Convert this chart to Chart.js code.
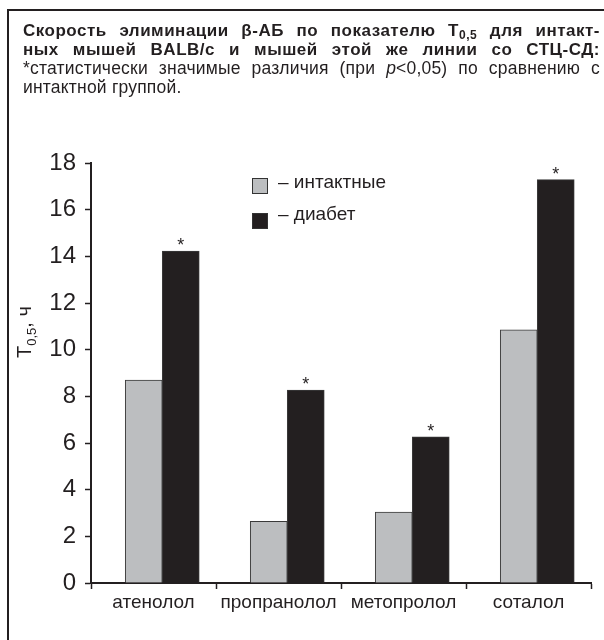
<!DOCTYPE html>
<html lang="ru">
<head>
<meta charset="UTF-8">
<title>Скорость элиминации β-АБ</title>
<script src="https://cdn.jsdelivr.net/npm/chart.js"></script>
<style>
  html, body { margin: 0; padding: 0; background: #fff; }
  #wrap { position: relative; width: 604px; height: 640px; overflow: hidden; }
  #frame { position: absolute; left: 7px; top: 9px; right: -5px; bottom: -5px;
           border-top: 2.5px solid #231f20; border-left: 2.5px solid #231f20; }
  #title { position: absolute; left: 23px; right: 4px; top: 22px; color: #231f20;
           font-family: "Liberation Sans", Arial, sans-serif; font-size: 17px; line-height: 18.5px; }
  #title div { text-align: justify; text-align-last: justify; white-space: nowrap; }
  #title .b { font-weight: bold; letter-spacing: 0.5px; }
  #title .r { font-size: 17.5px; letter-spacing: 0.2px; }
  #title .last { text-align-last: left; }
  #title sub { font-size: 12px; vertical-align: -3px; line-height: 0; }
  canvas { position: absolute; left: 0; top: 0; }
</style>
</head>
<body>
<div id="wrap">
  <div id="frame"></div>
  <canvas id="chart" width="604" height="640"></canvas>
  <div id="title">
    <div class="b">Скорость элиминации β-АБ по показателю T<sub>0,5</sub> для интакт-</div>
    <div class="b">ных мышей BALB/c и мышей этой же линии со СТЦ-СД:</div>
    <div class="r">*статистически значимые различия (при <i>p</i>&lt;0,05) по сравнению с</div>
    <div class="r last">интактной группой.</div>
  </div>
</div>
<script>
const drugs = ['атенолол', 'пропранолол', 'метопролол', 'соталол'];
const intactValues = [8.7, 2.64, 3.04, 10.85];
const diabetesValues = [14.22, 8.27, 6.26, 17.29];
const significant = [true, true, true, true];
const seriesNames = ['– интактные', '– диабет'];

const ink = '#231f20';
const greyFill = '#bcbec0';
const blackFill = '#231f20';

// bars sit a little right of the category centre in the original
const barShift = 0.07;
const toPoints = vals => vals.map((v, i) => ({ x: i + 0.5 + barShift, y: v }));

const extras = {
  id: 'extras',
  afterDatasetsDraw(chart) {
    const ctx = chart.ctx;
    ctx.save();
    // asterisks over the diabetes bars
    const meta = chart.getDatasetMeta(1);
    ctx.fillStyle = ink;
    ctx.font = '18px "Liberation Sans", Arial, sans-serif';
    ctx.textAlign = 'center';
    ctx.textBaseline = 'alphabetic';
    meta.data.forEach((bar, i) => {
      if (significant[i]) ctx.fillText('*', bar.x, bar.y);
    });

    // legend
    const fills = [greyFill, blackFill];
    const legendY = [178, 213];
    const textY = [183, 215];
    ctx.font = '19px "Liberation Sans", Arial, sans-serif';
    ctx.textAlign = 'left';
    ctx.textBaseline = 'middle';
    seriesNames.forEach((name, i) => {
      ctx.fillStyle = fills[i];
      ctx.fillRect(252, legendY[i], 16, 16);
      ctx.strokeStyle = '#333';
      ctx.lineWidth = 1;
      ctx.strokeRect(252.5, legendY[i] + 0.5, 15, 15);
      ctx.fillStyle = ink;
      ctx.fillText(name, 278, textY[i]);
    });

    // y axis title T0,5, ч
    ctx.translate(25, 336);
    ctx.rotate(-Math.PI / 2);
    ctx.textBaseline = 'alphabetic';
    ctx.font = '20px "Liberation Sans", Arial, sans-serif';
    let x = -22;
    ctx.fillText('T', x, 6);
    x += ctx.measureText('T').width;
    ctx.font = '13px "Liberation Sans", Arial, sans-serif';
    ctx.fillText('0,5', x, 11);
    x += ctx.measureText('0,5').width;
    ctx.font = '20px "Liberation Sans", Arial, sans-serif';
    ctx.fillText(', ч', x, 6);
    ctx.restore();
  }
};

new Chart(document.getElementById('chart'), {
  type: 'bar',
  data: {
    labels: drugs,
    datasets: [
      { label: seriesNames[0], data: toPoints(intactValues), xAxisID: 'xb',
        backgroundColor: greyFill, borderColor: '#3a3a3a', borderWidth: 1 },
      { label: seriesNames[1], data: toPoints(diabetesValues), xAxisID: 'xb',
        backgroundColor: blackFill, borderColor: '#3a3a3a', borderWidth: 1 }
    ]
  },
  options: {
    responsive: false,
    animation: false,
    events: [],
    layout: { padding: { top: 163, right: 13, left: 0, bottom: 0 } },
    datasets: { bar: { barThickness: 37 } },
    plugins: { legend: { display: false }, tooltip: { enabled: false } },
    scales: {
      xb: { type: 'linear', position: 'bottom', display: false, offset: false, min: 0, max: 4,
            grid: { offset: false } },
      x: {
        type: 'category',
        labels: drugs,
        position: 'bottom',
        offset: true,
        afterFit: s => { s.height = 57; },
        grid: { offset: true, drawOnChartArea: false, tickLength: 6, tickWidth: 1.5, color: ink },
        border: { display: true, color: ink, width: 2 },
        ticks: { color: ink, padding: 2, font: { family: '"Liberation Sans", Arial, sans-serif', size: 19 } }
      },
      y: {
        min: 0, max: 18,
        afterFit: s => { s.width = 91; },
        grid: { drawOnChartArea: false, tickLength: 6, tickWidth: 1.5, color: ink },
        border: { display: true, color: ink, width: 2 },
        ticks: { stepSize: 2, color: ink, padding: 9, font: { family: '"Liberation Sans", Arial, sans-serif', size: 24 } }
      }
    }
  },
  plugins: [extras]
});
</script>
</body>
</html>
